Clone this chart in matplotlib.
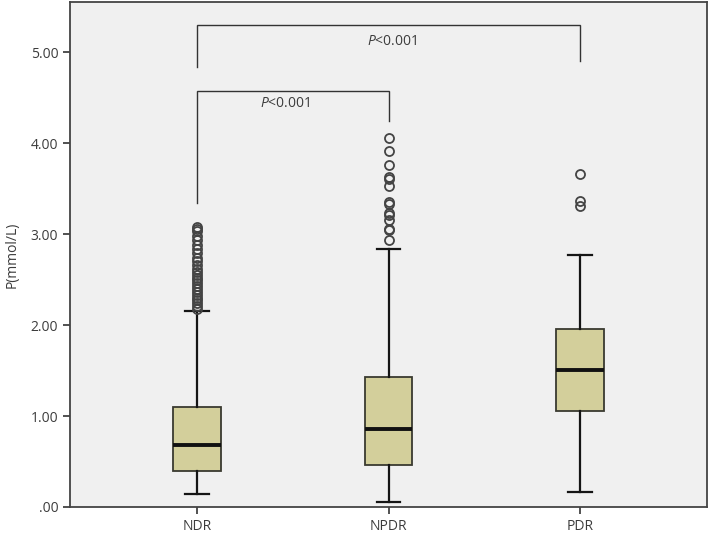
import matplotlib
matplotlib.use("Agg")
import matplotlib.pyplot as plt

plt.rcParams['font.family'] = ['Open Sans', 'DejaVu Sans']
plt.rcParams['mathtext.fontset'] = 'custom'
plt.rcParams['mathtext.it'] = 'Open Sans:italic'
plt.rcParams['mathtext.rm'] = 'Open Sans'

categories = ["NDR", "NPDR", "PDR"]
whislo = [0.14, 0.05, 0.16]
q1 = [0.40, 0.46, 1.06]
med = [0.68, 0.86, 1.51]
q3 = [1.10, 1.43, 1.955]
whishi = [2.15, 2.83, 2.77]
outliers_ndr = [3.08, 3.06, 3.03, 2.98, 2.93, 2.88, 2.84, 2.79, 2.74, 2.70, 2.66,
                2.62, 2.58, 2.55, 2.52, 2.49, 2.46, 2.43, 2.40, 2.36, 2.33, 2.30,
                2.27, 2.24, 2.21, 2.18]
outliers_npdr = [4.06, 3.91, 3.76, 3.63, 3.61, 3.53, 3.35, 3.33, 3.23, 3.21,
                 3.15, 3.06, 3.04, 2.93]
outliers_pdr = [3.66, 3.36, 3.31]
yticks = [0, 1, 2, 3, 4, 5]
ytick_labels = [".00", "1.00", "2.00", "3.00", "4.00", "5.00"]
ylabel = "P(mmol/L)"
brackets = [  # (left idx, right idx, bar y, left leg bottom, right leg bottom, label, label x, label y)
    (1, 2, 4.57, 3.34, 4.24, "<0.001", 1.46, 4.43),
    (1, 3, 5.30, 4.84, 4.90, "<0.001", 2.02, 5.12),
]

outliers = [outliers_ndr, outliers_npdr, outliers_pdr]
stats = []
for i, c in enumerate(categories):
    stats.append(dict(label=c, whislo=whislo[i], q1=q1[i], med=med[i], q3=q3[i],
                      whishi=whishi[i], fliers=outliers[i]))

fig = plt.figure(figsize=(7.09, 5.38), dpi=100)
ax = fig.add_axes([70/709, 31/538, 637/709, 505/538])
ax.set_facecolor("#f0f0f0")

ax.bxp(stats, positions=[1, 2, 3], widths=0.25, patch_artist=True,
       boxprops=dict(facecolor="#d3cf9b", edgecolor="#3a3a30", linewidth=1.3),
       medianprops=dict(color="#111111", linewidth=2.8),
       whiskerprops=dict(color="#151515", linewidth=1.6),
       capprops=dict(color="#151515", linewidth=1.6),
       flierprops=dict(marker="o", markersize=6.5, markerfacecolor="none",
                       markeredgecolor="#444444", markeredgewidth=1.3))

txtc = "#3c3c3c"
for (l, r, yb, yl, yr, lab, lx, ly) in brackets:
    ax.plot([l, l, r, r], [yl, yb, yb, yr], color="#333333", linewidth=1.0,
            solid_joinstyle="miter")
    ax.text(lx, ly, r"$\it{P}$" + lab, ha="center", va="center", fontsize=10,
            color=txtc)

ax.set_xlim(0.337, 3.663)
ax.set_ylim(0, 5.55)
ax.set_yticks(yticks)
ax.set_yticklabels(ytick_labels)
ax.set_xticks([1, 2, 3])
ax.set_xticklabels(categories)
ax.tick_params(axis="both", colors="#333333", labelsize=10, length=5, width=1.2,
               labelcolor=txtc)
ax.set_ylabel(ylabel, fontsize=10, color=txtc, labelpad=8)
for s in ax.spines.values():
    s.set_color("#444444")
    s.set_linewidth(1.3)

fig.savefig("out.png", dpi=100, facecolor="white")
